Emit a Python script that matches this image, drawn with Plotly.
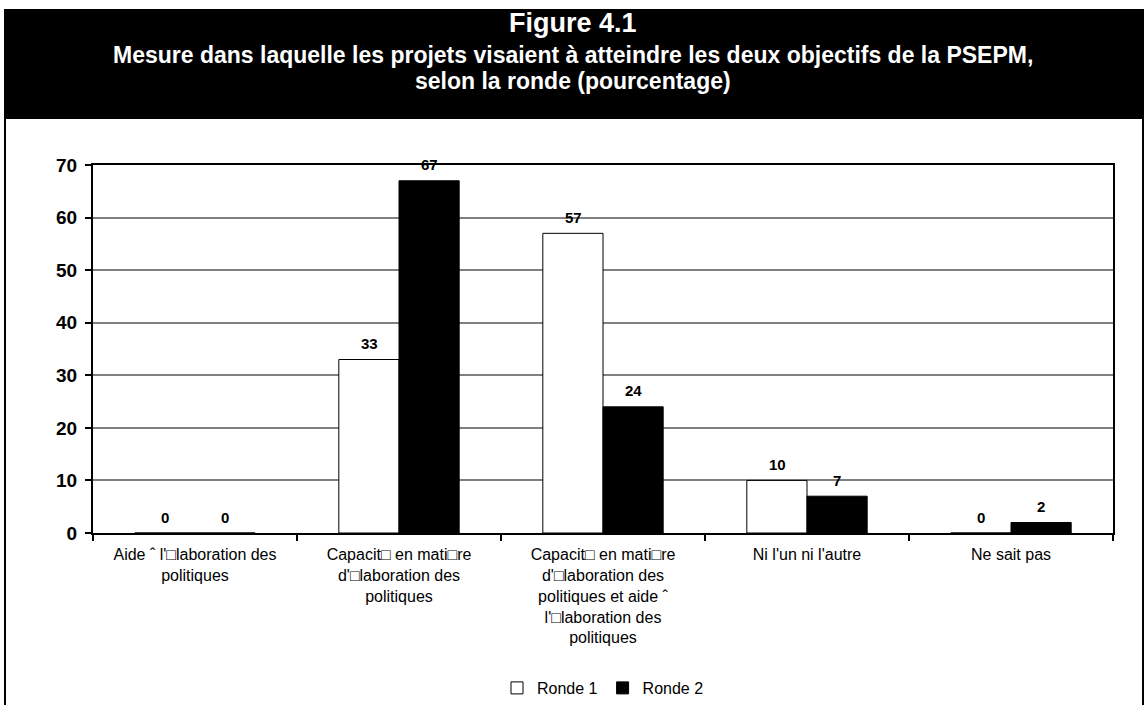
import plotly.graph_objects as go

# Response categories (labels kept exactly as exported) and series values
categories = [
    "Aide \u02c6 l'\u25a1laboration des<br>politiques",
    "Capacit\u25a1 en mati\u25a1re<br>d'\u25a1laboration des<br>politiques",
    "Capacit\u25a1 en mati\u25a1re<br>d'\u25a1laboration des<br>politiques et aide \u02c6<br>l'\u25a1laboration des<br>politiques",
    "Ni l'un ni l'autre",
    "Ne sait pas",
]
ronde1 = [0, 33, 57, 10, 0]
ronde2 = [0, 67, 24, 7, 2]
y_ticks = [0, 10, 20, 30, 40, 50, 60, 70]

title_main = "Figure 4.1"
title_sub_lines = [
    "Mesure dans laquelle les projets visaient \u00e0 atteindre les deux objectifs de la PSEPM,",
    "selon la ronde (pourcentage)",
]

FONT = "Liberation Sans, Arial, sans-serif"
W, H = 1146, 705
L, R, T, B = 93, 33, 165, 172

fig = go.Figure()
series = [("Ronde 1", ronde1, "white", -30), ("Ronde 2", ronde2, "black", 30)]
for name, vals, color, _ in series:
    fig.add_trace(go.Bar(
        name=name, x=categories, y=vals,
        marker=dict(color=color, line=dict(color="black", width=1)),
    ))

pw, ph = W - L - R, H - T - B


def px_x(p):
    return (p - L) / pw


def px_y(p):
    return (H - B - p) / ph


shapes = [
    # outer frame
    dict(type="rect", xref="paper", yref="paper",
         x0=px_x(5), x1=px_x(1143), y0=px_y(710), y1=px_y(10),
         line=dict(color="black", width=2), fillcolor="rgba(0,0,0,0)", layer="below"),
    # black header band
    dict(type="rect", xref="paper", yref="paper",
         x0=px_x(4), x1=px_x(1143), y0=px_y(119), y1=px_y(10),
         line=dict(width=0), fillcolor="black", layer="below"),
]

annotations = [
    dict(text="<b>" + title_main + "</b>", xref="paper", yref="paper",
         x=px_x(573), y=px_y(23), xanchor="center", yanchor="middle",
         showarrow=False, font=dict(family=FONT, size=27, color="white")),
]
for i, line in enumerate(title_sub_lines):
    annotations.append(dict(
        text="<b>" + line + "</b>", xref="paper", yref="paper",
        x=px_x(573), y=px_y(55 + 26 * i), xanchor="center", yanchor="middle",
        showarrow=False, font=dict(family=FONT, size=23, color="white")))

# value labels above each bar, taken from the same series values
for name, vals, color, shift in series:
    for cat, v in zip(categories, vals):
        annotations.append(dict(
            text=str(v), x=cat, y=v, xref="x", yref="y",
            xshift=shift, yshift=16, xanchor="center", yanchor="middle",
            showarrow=False,
            font=dict(family=FONT, size=15, color="black", weight="bold")))

fig.update_layout(
    width=W, height=H,
    margin=dict(l=L, r=R, t=T, b=B, autoexpand=False),
    paper_bgcolor="white", plot_bgcolor="white",
    barmode="group", bargap=0.41, bargroupgap=0,
    font=dict(family=FONT, color="black"),
    shapes=shapes, annotations=annotations,
    showlegend=True,
    legend=dict(orientation="h", x=0.5, xanchor="center", y=px_y(688), yanchor="middle",
                font=dict(family=FONT, size=16, color="black"),
                itemwidth=30, bgcolor="rgba(0,0,0,0)", traceorder="normal"),
    xaxis=dict(
        type="category", showline=True, linecolor="black", linewidth=2, mirror=True,
        ticks="outside", ticklen=6, tickcolor="black", tickwidth=2,
        tickson="boundaries", showgrid=False, ticklabelstandoff=6,
        tickfont=dict(family=FONT, size=16, color="black"),
    ),
    yaxis=dict(
        range=[0, 70], tickvals=y_ticks, showline=True, linecolor="black", linewidth=2,
        mirror=True, ticks="outside", ticklen=6, tickcolor="black", tickwidth=2,
        showgrid=True, gridcolor="#808080", gridwidth=1.5, zeroline=False,
        ticklabelstandoff=4,
        tickfont=dict(family=FONT, size=19, color="black", weight="bold"),
    ),
)

fig.write_html("out.html")
